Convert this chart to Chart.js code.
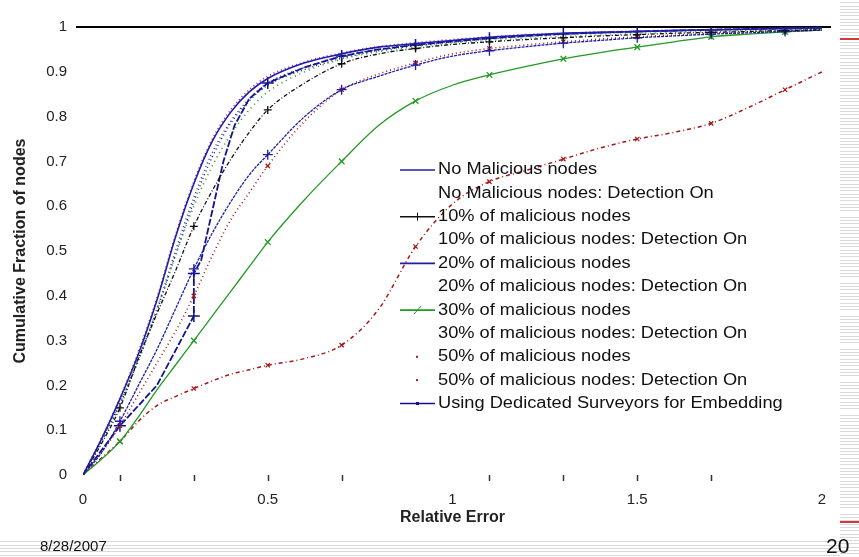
<!DOCTYPE html>
<html>
<head>
<meta charset="utf-8">
<script src="https://cdn.jsdelivr.net/npm/chart.js@4.4.1/dist/chart.umd.min.js"></script>
<style>
  body { margin: 0; background: #fff; }
  #wrap { position: relative; width: 859px; height: 557px; overflow: hidden; font-family: "Liberation Sans", Arial, sans-serif; }
  canvas { position: absolute; left: 0; top: 0; }
  .stripes { position: absolute; background: repeating-linear-gradient(to bottom, #fff 0, #fff 2.3px, #d9d9d9 2.3px, #d9d9d9 3.3px); }
  .red { position: absolute; left: 840px; width: 19px; height: 2px; background: #d23a3a; }
  .date { position: absolute; left: 40px; top: 537px; font-size: 15px; color: #111; }
  .page { position: absolute; left: 826px; top: 534px; font-size: 21px; color: #111; }
</style>
</head>
<body>
<div id="wrap">
  <div class="stripes" style="left:840px;top:0;width:19px;height:557px"></div>
  <div class="stripes" style="left:0;top:539px;width:840px;height:18px"></div>
  <div class="red" style="top:38px"></div>
  <div class="red" style="top:521px"></div>
  <canvas id="cdf" width="859" height="557"></canvas>
  <div class="date">8/28/2007</div>
  <div class="page">20</div>
</div>
<script>
// 값
const relErr = [0, 0.05, 0.1, 0.15, 0.2, 0.25, 0.3, 0.35, 0.4, 0.45, 0.5, 0.6, 0.7, 0.8, 0.9, 1.0, 1.1, 1.2, 1.3, 1.4, 1.5, 1.6, 1.7, 1.8, 1.9, 2.0];

const noMalicious    = [0, 0.08, 0.17, 0.27, 0.39, 0.53, 0.65, 0.745, 0.81, 0.855, 0.885, 0.92, 0.94, 0.955, 0.963, 0.97, 0.977, 0.982, 0.986, 0.988, 0.99, 0.992, 0.994, 0.995, 0.997, 0.998];
const noMaliciousDet = [0, 0.082, 0.172, 0.275, 0.395, 0.535, 0.655, 0.75, 0.815, 0.86, 0.89, 0.922, 0.942, 0.956, 0.965, 0.972, 0.978, 0.983, 0.986, 0.989, 0.991, 0.993, 0.994, 0.996, 0.997, 0.998];
const mal10          = [0, 0.07, 0.15, 0.26, 0.36, 0.455, 0.555, 0.635, 0.705, 0.765, 0.815, 0.875, 0.918, 0.94, 0.952, 0.961, 0.967, 0.972, 0.976, 0.98, 0.983, 0.986, 0.988, 0.99, 0.992, 0.994];
const mal10Det       = [0, 0.078, 0.16, 0.26, 0.37, 0.49, 0.6, 0.69, 0.76, 0.815, 0.855, 0.9, 0.928, 0.945, 0.956, 0.964, 0.97, 0.975, 0.979, 0.982, 0.985, 0.988, 0.99, 0.992, 0.994, 0.996];
const mal20          = [0, 0.05, 0.12, 0.2, 0.28, 0.37, 0.46, 0.54, 0.61, 0.67, 0.715, 0.8, 0.86, 0.89, 0.915, 0.935, 0.947, 0.956, 0.964, 0.97, 0.976, 0.98, 0.984, 0.987, 0.99, 0.993];
const mal20Det       = [0, 0.075, 0.16, 0.26, 0.37, 0.5, 0.62, 0.72, 0.79, 0.84, 0.875, 0.91, 0.935, 0.95, 0.96, 0.967, 0.974, 0.98, 0.984, 0.987, 0.99, 0.992, 0.993, 0.995, 0.996, 0.998];
const mal30          = [0, 0.035, 0.075, 0.13, 0.19, 0.245, 0.3, 0.355, 0.41, 0.465, 0.52, 0.615, 0.7, 0.78, 0.835, 0.87, 0.893, 0.912, 0.929, 0.943, 0.955, 0.967, 0.978, 0.984, 0.989, 0.993];
const mal30Det       = [0, 0.075, 0.158, 0.255, 0.365, 0.49, 0.61, 0.71, 0.785, 0.835, 0.87, 0.905, 0.93, 0.947, 0.958, 0.966, 0.973, 0.979, 0.983, 0.986, 0.989, 0.991, 0.993, 0.994, 0.996, 0.997];
const mal50          = [0, 0.038, 0.075, 0.12, 0.155, 0.175, 0.193, 0.21, 0.225, 0.235, 0.245, 0.26, 0.29, 0.37, 0.51, 0.605, 0.655, 0.68, 0.705, 0.73, 0.75, 0.765, 0.785, 0.82, 0.86, 0.9];
const mal50Det       = [0, 0.05, 0.11, 0.18, 0.25, 0.32, 0.4, 0.49, 0.57, 0.63, 0.69, 0.79, 0.86, 0.895, 0.92, 0.94, 0.952, 0.96, 0.967, 0.973, 0.978, 0.982, 0.986, 0.989, 0.992, 0.995];

// dedicated surveyors 는 x 값이 따로 있음 (0.3 에서 수직 점프)
const surveyorX = [0, 0.1, 0.2, 0.3, 0.3, 0.32, 0.35, 0.38, 0.41, 0.45, 0.5, 0.6, 0.7, 0.8, 0.9, 1.0, 1.1, 1.3, 1.5, 1.7, 1.9, 2.0];
const surveyorY = [0, 0.11, 0.2, 0.355, 0.45, 0.48, 0.59, 0.70, 0.78, 0.84, 0.875, 0.91, 0.935, 0.95, 0.96, 0.968, 0.975, 0.985, 0.99, 0.994, 0.997, 0.998];

const seriesLabels = [
    'No Malicious nodes',
    'No Malicious nodes: Detection On',
    '10% of malicious nodes',
    '10% of malicious nodes: Detection On',
    '20% of malicious nodes',
    '20% of malicious nodes: Detection On',
    '30% of malicious nodes',
    '30% of malicious nodes: Detection On',
    '50% of malicious nodes',
    '50% of malicious nodes: Detection On',
    'Using Dedicated Surveyors for Embedding'
];

const xTickLabels = [0, 0.5, 1, 1.5, 2];
const xMinorTicks = [0.1, 0.3, 0.5, 0.7, 1.1, 1.3, 1.5, 1.7];
const markerXs = [0.1, 0.3, 0.5, 0.7, 0.9, 1.1, 1.3, 1.5, 1.7, 1.9];

function toPoints(ys, xs = relErr) {
    return xs.map((x, i) => ({ x: x, y: ys[i] }));
}

function markerRadius(r) {
    return c => (c.raw && markerXs.some(m => Math.abs(m - c.raw.x) < 1e-6)) ? r : 0;
}

// 선 스타일
function makeSet(label, data, color, opts) {
    return Object.assign({
        label: label,
        data: data,
        borderColor: color,
        backgroundColor: color,
        pointBorderColor: color,
        pointBackgroundColor: color,
        borderWidth: 1.3,
        borderDash: [],
        pointRadius: 0,
        pointBorderWidth: 1.3,
        fill: false,
        cubicInterpolationMode: 'monotone',
        legendSample: 'none'
    }, opts);
}

const BLUE = '#1e1ea6', NAVY = '#12128e', MAGENTA = '#b010b0', BLACK = '#111111', GREEN = '#229a22', DARKRED = '#a51818';

const datasets = [
    makeSet(seriesLabels[0], toPoints(noMalicious), BLUE, { borderWidth: 1.6, legendSample: 'line' }),
    makeSet(seriesLabels[1], toPoints(noMaliciousDet), MAGENTA, { borderDash: [1, 3], borderWidth: 1.6 }),
    makeSet(seriesLabels[2], toPoints(mal10), BLACK, { borderDash: [4, 2, 1, 2], pointRadius: markerRadius(4), pointStyle: 'cross', legendSample: 'line', legendMarker: 'cross' }),
    makeSet(seriesLabels[3], toPoints(mal10Det), GREEN, { borderDash: [1, 4], borderWidth: 1.6 }),
    makeSet(seriesLabels[4], toPoints(mal20), BLUE, { borderDash: [3, 1], pointRadius: markerRadius(5), pointStyle: 'cross', legendSample: 'line' }),
    makeSet(seriesLabels[5], toPoints(mal20Det), BLUE, { borderDash: [1, 3] }),
    makeSet(seriesLabels[6], toPoints(mal30), GREEN, { pointRadius: markerRadius(4), pointStyle: 'crossRot', legendSample: 'line', legendMarker: 'crossRot' }),
    makeSet(seriesLabels[7], toPoints(mal30Det), NAVY, { borderDash: [1, 3] }),
    makeSet(seriesLabels[8], toPoints(mal50), DARKRED, { borderDash: [4, 3, 1, 3], borderWidth: 1.5, pointRadius: markerRadius(3), pointStyle: 'crossRot', legendSample: 'dot' }),
    makeSet(seriesLabels[9], toPoints(mal50Det), DARKRED, { borderDash: [1, 3], borderWidth: 1.6, pointRadius: markerRadius(3), pointStyle: 'crossRot', legendSample: 'dot' }),
    makeSet(seriesLabels[10], toPoints(surveyorY, surveyorX), NAVY, { borderDash: [7, 2], borderWidth: 1.8, cubicInterpolationMode: 'default', tension: 0, pointRadius: markerRadius(6), pointStyle: 'cross', pointBorderWidth: 1.5, legendSample: 'line', legendMarker: 'dot' })
];

// 위쪽 1 선과 아래 눈금
const framePlugin = {
    id: 'frame',
    beforeDatasetsDraw(chart) {
        const c = chart.ctx, x = chart.scales.x, y = chart.scales.y;
        c.save();
        c.strokeStyle = '#000';
        c.lineWidth = 2;
        const top = Math.round(y.getPixelForValue(1));
        c.beginPath();
        c.moveTo(x.left - 7, top);
        c.lineTo(x.right + 9, top);
        c.stroke();
        c.lineWidth = 1.5;
        c.strokeStyle = '#333';
        const base = y.getPixelForValue(0);
        xMinorTicks.forEach(v => {
            const px = Math.round(x.getPixelForValue(v)) + 0.5;
            c.beginPath();
            c.moveTo(px, base);
            c.lineTo(px, base + 6);
            c.stroke();
        });
        c.restore();
    }
};

// 범례 (글자는 원본처럼 가로로 조금 넓게)
const legendPlugin = {
    id: 'innerLegend',
    afterDatasetsDraw(chart) {
        const c = chart.ctx;
        c.save();
        c.font = '16px "Liberation Sans", Arial, sans-serif';
        c.textBaseline = 'middle';
        chart.data.datasets.forEach((ds, i) => {
            const y = 170 + i * 23.35;
            const color = ds.borderColor;
            if (ds.legendSample === 'line') {
                c.strokeStyle = color;
                c.lineWidth = 1.6;
                c.beginPath();
                c.moveTo(400, y);
                c.lineTo(435, y);
                c.stroke();
                if (ds.legendMarker === 'cross') {
                    c.lineWidth = 1;
                    c.beginPath();
                    c.moveTo(417.5, y - 4); c.lineTo(417.5, y + 4);
                    c.stroke();
                } else if (ds.legendMarker === 'crossRot') {
                    c.lineWidth = 1;
                    c.beginPath();
                    c.moveTo(414, y + 4); c.lineTo(421, y - 4);
                    c.stroke();
                } else if (ds.legendMarker === 'dot') {
                    c.fillStyle = color;
                    c.fillRect(416, y - 1.5, 3, 3);
                }
            } else if (ds.legendSample === 'dot') {
                c.fillStyle = color;
                c.fillRect(416, y - 1, 2, 2);
            }
            c.fillStyle = '#111';
            c.save();
            c.translate(438, y);
            c.scale(1.14, 1);
            c.fillText(ds.label, 0, 0);
            c.restore();
        });
        c.restore();
    }
};

new Chart(document.getElementById('cdf').getContext('2d'), {
    type: 'line',
    data: { datasets: datasets },
    options: {
        responsive: false,
        animation: false,
        layout: { padding: { left: 0, top: 27, right: 37, bottom: 0 } },
        plugins: {
            legend: { display: false },
            tooltip: { enabled: false }
        },
        scales: {
            x: {
                type: 'linear',
                min: 0,
                max: 2,
                grid: { display: false, drawTicks: false },
                border: { display: false },
                afterFit: s => { s.height = 82; },
                afterBuildTicks: s => { s.ticks = xTickLabels.map(v => ({ value: v })); },
                ticks: {
                    padding: 16,
                    autoSkip: false,
                    maxRotation: 0,
                    color: '#222',
                    font: { family: '"Liberation Sans", Arial, sans-serif', size: 15 },
                    callback: v => String(v)
                },
                title: {
                    display: true,
                    text: 'Relative Error',
                    color: '#222',
                    padding: { top: 0, bottom: 30 },
                    font: { family: '"Liberation Sans", Arial, sans-serif', size: 16, weight: 'bold' }
                }
            },
            y: {
                min: 0,
                max: 1,
                grid: { display: false, drawTicks: false },
                border: { display: false },
                afterFit: s => { s.width = 83; },
                ticks: {
                    stepSize: 0.1,
                    padding: 16,
                    autoSkip: false,
                    color: '#222',
                    font: { family: '"Liberation Sans", Arial, sans-serif', size: 15 },
                    callback: v => String(Number(v.toFixed(1)))
                },
                title: {
                    display: true,
                    text: 'Cumulative Fraction of nodes',
                    color: '#222',
                    padding: { top: 11, bottom: 0 },
                    font: { family: '"Liberation Sans", Arial, sans-serif', size: 16, weight: 'bold' }
                }
            }
        }
    },
    plugins: [framePlugin, legendPlugin]
});
</script>
</body>
</html>
